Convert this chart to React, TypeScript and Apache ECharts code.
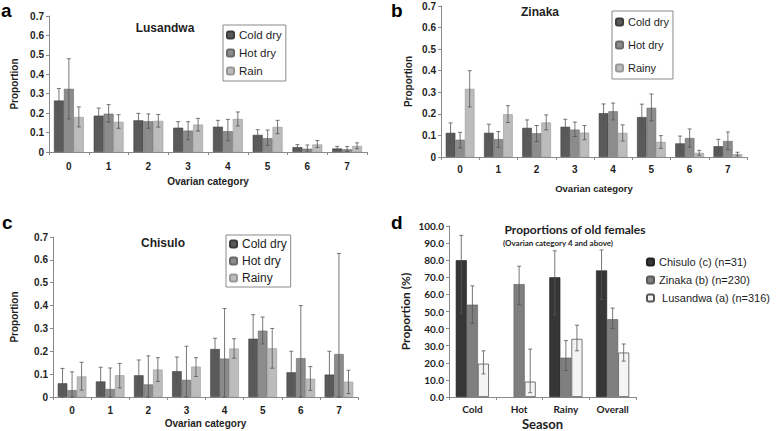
import React, { useEffect, useRef } from "react";
import * as echarts from "echarts";

// ---------- data ----------
const ovarianCats = ["0", "1", "2", "3", "4", "5", "6", "7"];
const seasons = ["Cold", "Hot", "Rainy", "Overall"];

// Panel a: Lusandwa
const aColdDry = [0.265, 0.187, 0.163, 0.125, 0.13, 0.088, 0.025, 0.018];
const aColdDryLo = [0.206, 0.146, 0.124, 0.094, 0.098, 0.058, 0.013, 0.009];
const aColdDryHi = [0.327, 0.226, 0.199, 0.156, 0.163, 0.115, 0.038, 0.029];
const aHotDry = [0.325, 0.197, 0.158, 0.11, 0.107, 0.071, 0.017, 0.014];
const aHotDryLo = [0.17, 0.154, 0.122, 0.063, 0.058, 0.034, 0.004, 0.003];
const aHotDryHi = [0.48, 0.244, 0.196, 0.156, 0.168, 0.113, 0.036, 0.028];
const aRain = [0.18, 0.155, 0.16, 0.141, 0.17, 0.129, 0.039, 0.031];
const aRainLo = [0.129, 0.122, 0.128, 0.108, 0.134, 0.094, 0.023, 0.017];
const aRainHi = [0.232, 0.192, 0.193, 0.173, 0.206, 0.163, 0.059, 0.047];

// Panel b: Zinaka
const bColdDry = [0.112, 0.112, 0.135, 0.14, 0.203, 0.185, 0.063, 0.05];
const bColdDryLo = [0.065, 0.072, 0.103, 0.111, 0.16, 0.126, 0.023, 0.018];
const bColdDryHi = [0.158, 0.152, 0.172, 0.175, 0.246, 0.245, 0.097, 0.082];
const bHotDry = [0.08, 0.083, 0.11, 0.127, 0.212, 0.228, 0.088, 0.074];
const bHotDryLo = [0.042, 0.045, 0.072, 0.095, 0.172, 0.168, 0.046, 0.034];
const bHotDryHi = [0.114, 0.118, 0.146, 0.162, 0.25, 0.292, 0.13, 0.116];
const bRainy = [0.316, 0.198, 0.16, 0.113, 0.112, 0.07, 0.019, 0.013];
const bRainyLo = [0.232, 0.16, 0.126, 0.08, 0.074, 0.04, 0.008, 0.005];
const bRainyHi = [0.4, 0.238, 0.195, 0.146, 0.149, 0.099, 0.031, 0.022];

// Panel c: Chisulo
const cColdDry = [0.06, 0.068, 0.095, 0.113, 0.21, 0.255, 0.108, 0.098];
const cColdDryLo = [0, 0.005, 0.025, 0.055, 0.16, 0.15, 0.02, 0];
const cColdDryHi = [0.125, 0.13, 0.162, 0.175, 0.257, 0.36, 0.2, 0.2];
const cHotDry = [0.03, 0.035, 0.055, 0.075, 0.168, 0.29, 0.17, 0.188];
const cHotDryLo = [0, 0, 0, 0, 0, 0.232, 0, 0];
const cHotDryHi = [0.11, 0.127, 0.18, 0.222, 0.387, 0.35, 0.4, 0.628];
const cRainy = [0.09, 0.095, 0.12, 0.133, 0.212, 0.213, 0.08, 0.067];
const cRainyLo = [0.03, 0.04, 0.068, 0.09, 0.17, 0.126, 0.029, 0.015];
const cRainyHi = [0.152, 0.147, 0.172, 0.172, 0.255, 0.3, 0.133, 0.117];

// Panel d: proportions of old females (%)
const dChisulo = [80, null, 70, 74];
const dChisuloLo = [49, null, 48, 57];
const dChisuloHi = [94.5, null, 85.5, 86];
const dZinaka = [54, 66, 23, 45.5];
const dZinakaLo = [43, 54, 15.5, 40];
const dZinakaHi = [65, 76.5, 33, 52];
const dLusandwa = [19.5, 9, 34, 26];
const dLusandwaLo = [13.5, 2.5, 27, 21];
const dLusandwaHi = [27, 28, 42, 31];

// ---------- helpers ----------
const FONT = "'Liberation Sans', Arial, sans-serif";
const CAL = "Lato, 'Liberation Sans', sans-serif";
const AXIS_COLOR = "#8a8a8a";
const TXT = "#1e1e1e";
const ERR_COLOR = "#555";

const COLD = "#5a5a5a";
const HOT = "#8c8c8c";
const RAIN = "#bcbcbc";

function errData(los: (number | null)[][], his: (number | null)[][]) {
  const out: any[] = [];
  los.forEach((lo, s) => {
    lo.forEach((l, i) => {
      const h = his[s][i];
      if (l == null || h == null) return;
      out.push([i, s, l, h]);
    });
  });
  return out;
}

function errRender(nSeries: number, catGap: number) {
  return (params: any, api: any) => {
    const cat = api.value(0);
    const s = api.value(1);
    const lo = api.value(2);
    const hi = api.value(3);
    const band = api.size([1, 0])[0];
    const bw = (band * (1 - catGap)) / nSeries;
    const center = api.coord([cat, 0])[0];
    const x = center + (s - (nSeries - 1) / 2) * bw;
    const yLo = api.coord([cat, lo])[1];
    const yHi = api.coord([cat, hi])[1];
    const cap = 2;
    const style = { stroke: ERR_COLOR, lineWidth: 0.8 };
    return {
      type: "group",
      children: [
        { type: "line", shape: { x1: x, y1: yLo, x2: x, y2: yHi }, style },
        { type: "line", shape: { x1: x - cap, y1: yHi, x2: x + cap, y2: yHi }, style },
        { type: "line", shape: { x1: x - cap, y1: yLo, x2: x + cap, y2: yLo }, style },
      ],
    };
  };
}

function catAxis(gridIndex: number, cats: string[], opts: any) {
  return {
    type: "category",
    gridIndex,
    data: cats,
    axisLine: { lineStyle: { color: AXIS_COLOR, width: 1 } },
    axisTick: { show: true, length: 3, lineStyle: { color: AXIS_COLOR } },
    axisLabel: {
      color: TXT,
      fontFamily: opts.labelFamily || FONT,
      fontWeight: "bold",
      fontSize: opts.labelSize || 10,
      margin: opts.labelMargin,
    },
    name: opts.name,
    nameLocation: "middle",
    nameGap: opts.nameGap,
    nameTextStyle: {
      color: TXT,
      fontFamily: opts.nameFamily || FONT,
      fontWeight: "bold",
      fontSize: opts.nameSize || 10,
    },
  };
}

function valAxis(gridIndex: number, opts: any) {
  return {
    type: "value",
    gridIndex,
    min: opts.min,
    max: opts.max,
    interval: opts.interval,
    splitLine: { show: false },
    axisLine: { show: true, lineStyle: { color: AXIS_COLOR, width: 1 } },
    axisTick: { show: true, length: 3, lineStyle: { color: AXIS_COLOR } },
    axisLabel: {
      color: TXT,
      fontFamily: opts.labelFamily || FONT,
      fontWeight: "bold",
      fontSize: opts.labelSize || 10,
      margin: 5,
      formatter: opts.formatter,
    },
    name: opts.name,
    nameLocation: "middle",
    nameRotate: 90,
    nameGap: opts.nameGap,
    nameTextStyle: {
      color: TXT,
      fontFamily: opts.nameFamily || FONT,
      fontWeight: "bold",
      fontSize: opts.nameSize || 10,
    },
  };
}

function barSeries(name: string, idx: number, data: any[], color: string, border: string, gap: string) {
  return {
    type: "bar",
    name,
    xAxisIndex: idx,
    yAxisIndex: idx,
    data,
    barGap: "0%",
    barCategoryGap: gap,
    itemStyle: { color, borderColor: border, borderWidth: 0.6 },
  };
}

function boxLegend(names: string[], left: number, top: number, fontSize: number, itemGap: number, padV: number) {
  return {
    data: names,
    orient: "vertical",
    left,
    top,
    padding: [padV, 4, padV, 3],
    borderColor: "#8a8a8a",
    borderWidth: 1,
    itemWidth: 7,
    itemHeight: 7,
    itemGap,
    selectedMode: false,
    textStyle: { color: TXT, fontFamily: FONT, fontSize, lineHeight: 12 },
  };
}

function letter(t: string, x: number, y: number) {
  return {
    type: "text",
    x,
    y,
    style: {
      text: t,
      fill: "#000",
      font: `bold 19px ${FONT}`,
      textAlign: "left",
      textVerticalAlign: "middle",
    },
  };
}

function title(t: string, x: number, y: number, font: string) {
  return {
    type: "text",
    x,
    y,
    style: { text: t, fill: TXT, font, textAlign: "center", textVerticalAlign: "middle" },
  };
}

export default function App() {
  const ref = useRef<HTMLDivElement>(null);

  useEffect(() => {
    if (!ref.current) return;
    const chart = echarts.init(ref.current, undefined, { renderer: "svg" });
    const gapABC = "25%";
    const gapD = "29%";

    const option: any = {
      animation: false,
      backgroundColor: "#fff",
      grid: [
        { left: 49, top: 16, width: 318, height: 136 },
        { left: 441, top: 6, width: 306, height: 151 },
        { left: 53, top: 237, width: 305, height: 160 },
        { left: 449, top: 226, width: 187, height: 173 },
      ],
      xAxis: [
        catAxis(0, ovarianCats, { name: "Ovarian category", nameGap: 24, labelMargin: 9 }),
        catAxis(1, ovarianCats, { name: "Ovarian category", nameGap: 26, labelMargin: 7, nameSize: 9.5 }),
        catAxis(2, ovarianCats, { name: "Ovarian category", nameGap: 21, labelMargin: 8 }),
        catAxis(3, seasons, {
          name: "Season",
          nameGap: 20,
          labelMargin: 7,
          labelFamily: CAL,
          labelSize: 10,
          nameFamily: CAL,
          nameSize: 13,
        }),
      ],
      yAxis: [
        valAxis(0, { min: 0, max: 0.7, interval: 0.1, name: "Proportion", nameGap: 30 }),
        valAxis(1, { min: 0, max: 0.7, interval: 0.1, name: "Proportion", nameGap: 28 }),
        valAxis(2, { min: 0, max: 0.7, interval: 0.1, name: "Proportion", nameGap: 34 }),
        valAxis(3, {
          min: 0,
          max: 100,
          interval: 10,
          name: "Proportion (%)",
          nameGap: 38,
          labelFamily: CAL,
          nameFamily: CAL,
          nameSize: 12,
          formatter: (v: number) => v.toFixed(1),
        }),
      ],
      legend: [
        boxLegend(["Cold dry", "Hot dry", "Rain"], 223, 25, 11.5, 6, 4),
        boxLegend(["Cold dry", "Hot dry", "Rainy"], 612, 11, 11, 11, 5),
        boxLegend(["Cold dry", "Hot dry", "Rainy"], 226, 235, 12, 5, 3),
        {
          data: ["Chisulo (c) (n=31)", "Zinaka (b) (n=230)", "Lusandwa (a) (n=316)"],
          orient: "vertical",
          left: 646,
          top: 255,
          padding: 0,
          itemWidth: 7,
          itemHeight: 7,
          itemGap: 4,
          selectedMode: false,
          formatter: (n: string) => (n.indexOf("Lusandwa") === 0 ? "\u00a0" + n : n),
          textStyle: { color: TXT, fontFamily: FONT, fontSize: 11, lineHeight: 14 },
        },
      ],
      graphic: [
        letter("a", 1, 10),
        letter("b", 391, 10),
        letter("c", 2, 222),
        letter("d", 391, 222),
        title("Lusandwa", 165, 28, `bold 12px ${FONT}`),
        title("Zinaka", 540, 12, `bold 12px ${FONT}`),
        title("Chisulo", 163, 243, `bold 12px ${FONT}`),
        title("Proportions of old females", 575, 229, `bold 12px ${CAL}`),
        title("(Ovarian category 4 and above)", 558, 243, `bold 8px ${CAL}`),
      ],
      series: [
        barSeries("Cold dry", 0, aColdDry, COLD, "#3c3c3c", gapABC),
        barSeries("Hot dry", 0, aHotDry, HOT, "#6a6a6a", gapABC),
        barSeries("Rain", 0, aRain, RAIN, "#999", gapABC),
        {
          type: "custom",
          name: "errA",
          xAxisIndex: 0,
          yAxisIndex: 0,
          renderItem: errRender(3, 0.25),
          encode: { x: 0, y: [2, 3] },
          data: errData([aColdDryLo, aHotDryLo, aRainLo], [aColdDryHi, aHotDryHi, aRainHi]),
          z: 5,
        },
        barSeries("Cold dry", 1, bColdDry, COLD, "#3c3c3c", gapABC),
        barSeries("Hot dry", 1, bHotDry, HOT, "#6a6a6a", gapABC),
        barSeries("Rainy", 1, bRainy, RAIN, "#999", gapABC),
        {
          type: "custom",
          name: "errB",
          xAxisIndex: 1,
          yAxisIndex: 1,
          renderItem: errRender(3, 0.25),
          encode: { x: 0, y: [2, 3] },
          data: errData([bColdDryLo, bHotDryLo, bRainyLo], [bColdDryHi, bHotDryHi, bRainyHi]),
          z: 5,
        },
        barSeries("Cold dry", 2, cColdDry, COLD, "#3c3c3c", gapABC),
        barSeries("Hot dry", 2, cHotDry, HOT, "#6a6a6a", gapABC),
        barSeries("Rainy", 2, cRainy, RAIN, "#999", gapABC),
        {
          type: "custom",
          name: "errC",
          xAxisIndex: 2,
          yAxisIndex: 2,
          renderItem: errRender(3, 0.25),
          encode: { x: 0, y: [2, 3] },
          data: errData([cColdDryLo, cHotDryLo, cRainyLo], [cColdDryHi, cHotDryHi, cRainyHi]),
          z: 5,
        },
        barSeries("Chisulo (c) (n=31)", 3, dChisulo, "#363636", "#222", gapD),
        barSeries("Zinaka (b) (n=230)", 3, dZinaka, "#7f7f7f", "#5a5a5a", gapD),
        {
          ...barSeries("Lusandwa (a) (n=316)", 3, dLusandwa, "#f4f4f4", "#555", gapD),
          itemStyle: { color: "#f4f4f4", borderColor: "#555", borderWidth: 0.8 },
        },
        {
          type: "custom",
          name: "errD",
          xAxisIndex: 3,
          yAxisIndex: 3,
          renderItem: errRender(3, 0.29),
          encode: { x: 0, y: [2, 3] },
          data: errData([dChisuloLo, dZinakaLo, dLusandwaLo], [dChisuloHi, dZinakaHi, dLusandwaHi]),
          z: 5,
        },
      ],
    };
    chart.setOption(option);
    return () => chart.dispose();
  }, []);

  return (
    <div
      ref={ref}
      style={{ position: "fixed", left: 0, top: 0, width: 778, height: 431, background: "#fff" }}
    />
  );
}
